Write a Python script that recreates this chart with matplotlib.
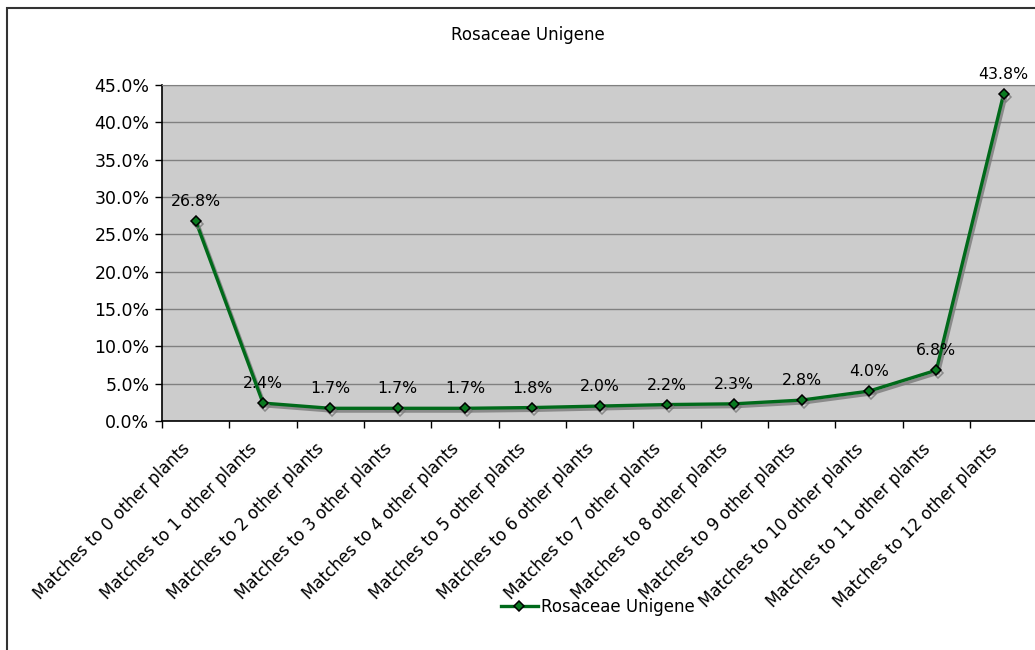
import matplotlib.pyplot as plt
import matplotlib.patches as mpatches
import matplotlib.patheffects as pe
import matplotlib.transforms as mtransforms
from matplotlib.lines import Line2D
from matplotlib.ticker import FuncFormatter, MultipleLocator, FixedLocator

plt.rcParams['font.family'] = ['DejaVu Sans']

# data (percent)
categories = ["Matches to %d other plants" % i for i in range(13)]
values = [26.8, 2.4, 1.7, 1.7, 1.7, 1.8, 2.0, 2.2, 2.3, 2.8, 4.0, 6.8, 43.8]
series_name = "Rosaceae Unigene"

W, H = 1035, 650
fig = plt.figure(figsize=(W / 100, H / 100), dpi=100)

# outer chart border (picture is cropped on right and bottom)
fig.patches.append(mpatches.Rectangle((7 / W, -0.1), 1.2, 1.1 - 8 / H,
                                      transform=fig.transFigure, fill=False,
                                      edgecolor='#333333', linewidth=1.5))

ax = fig.add_axes([162 / W, 1 - 421 / H, 875.3 / W, 336 / H])
ax.set_facecolor('#cccccc')

x = list(range(len(values)))
style = dict(color='#006a1a', linewidth=2.4, marker='D', markersize=5,
             markerfacecolor='#0a7a20', markeredgecolor='black', markeredgewidth=1.1)
shadow = [pe.SimpleLineShadow(offset=(1.5, -2), shadow_color='#7a7a7a', alpha=0.8), pe.Normal()]
ax.plot(x, values, path_effects=shadow, zorder=3, **style)

for xi, v in zip(x, values):
    ax.annotate("%.1f%%" % v, (xi, v), xytext=(0, 14), textcoords='offset points',
                ha='center', va='center', fontsize=11.3, color='black', zorder=4)

ax.set_xlim(-0.5, len(values) - 0.5)
ax.set_ylim(0, 45)
ax.yaxis.set_major_locator(MultipleLocator(5))
ax.yaxis.set_major_formatter(FuncFormatter(lambda v, p: "%.1f%%" % v))
ax.grid(axis='y', color='#808080', linewidth=1)
ax.set_axisbelow(True)

# ticks sit on category boundaries, labels drawn as rotated text
ax.xaxis.set_major_locator(FixedLocator([i - 0.5 for i in range(len(values))]))
ax.set_xticklabels([])
ax.tick_params(axis='x', which='major', length=5, width=1, color='black')
ax.tick_params(axis='y', length=5, width=1, labelsize=12.5, pad=4)

lab_trans = ax.get_xaxis_transform() + mtransforms.ScaledTranslation(-15 / 100, -19 / 100,
                                                                     fig.dpi_scale_trans)
for xi, name in zip(x, categories):
    ax.text(xi, 0, name, transform=lab_trans, rotation=45, rotation_mode='anchor',
            ha='right', va='top', fontsize=12, clip_on=False)

for s in ['left', 'bottom']:
    ax.spines[s].set_color('black')
    ax.spines[s].set_linewidth(1.2)
ax.spines['top'].set_color('#808080')
ax.spines['right'].set_visible(False)

fig.text(528 / W, 1 - 35 / H, "Rosaceae Unigene", ha='center', va='center', fontsize=12)

handle = Line2D([], [], **style)
fig.legend([handle], [series_name], loc='center', bbox_to_anchor=(598 / W, 1 - 607 / H),
           frameon=False, fontsize=12, handlelength=2.2, handletextpad=0.2)

fig.savefig("out.png", dpi=100)
